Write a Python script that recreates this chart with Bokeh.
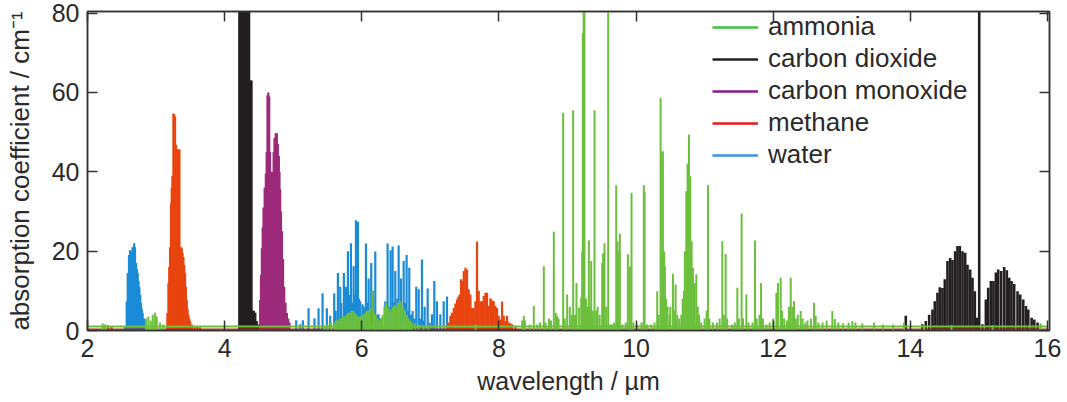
from bokeh.plotting import figure
from bokeh.models import Range1d, LinearAxis, Legend, LegendItem, FixedTicker
from bokeh.embed import file_html
from bokeh.resources import INLINE

# ---------------- data (wavelength in µm, absorption coefficient in cm^-1) -------------
species = ["ammonia", "carbon dioxide", "carbon monoxide", "methane", "water"]
x_ticks = [2, 4, 6, 8, 10, 12, 14, 16]
y_ticks = [0, 20, 40, 60, 80]
wl_range = [2, 16]

water_wl = [2.547, 2.572, 2.587, 2.605, 2.620, 2.633, 2.645, 2.657, 2.669, 2.681, 2.693,
            2.708, 2.720, 2.732, 2.744, 2.756, 2.769, 2.781, 2.793, 2.805, 2.822, 2.839,
            5.044, 5.102, 5.141, 5.224, 5.311, 5.370, 5.428, 5.491, 5.540, 5.598, 5.620,
            5.652, 5.686, 5.700, 5.739, 5.760, 5.769, 5.798, 5.820, 5.842, 5.860, 5.881,
            5.900, 5.915, 5.944, 5.960, 5.978, 6.012, 6.030, 6.061, 6.080, 6.100, 6.120,
            6.138, 6.163, 6.197, 6.220, 6.245, 6.270, 6.294, 6.343, 6.377, 6.400, 6.421,
            6.450, 6.470, 6.489, 6.520, 6.538, 6.572, 6.590, 6.611, 6.630, 6.654, 6.680,
            6.693, 6.720, 6.742, 6.770, 6.795, 6.830, 6.850, 6.878, 6.900, 6.917, 6.961,
            6.990, 7.024, 7.058, 7.097, 7.146, 7.195, 7.243]
water_abs = [1.0, 7.3, 14.5, 19.0, 20.2, 19.5, 20.0, 21.0, 21.0, 22.0, 21.0,
             17.0, 15.5, 14.5, 12.5, 11.0, 9.0, 6.9, 5.5, 4.4, 3.0, 1.5,
             2.6, 1.6, 2.6, 5.6, 3.1, 5.6, 9.4, 5.6, 3.7, 9.4, 5.0,
             14.5, 11.0, 7.0, 14.5, 8.0, 11.0, 20.0, 9.0, 22.0, 7.0, 16.2,
             9.0, 27.8, 27.4, 8.0, 7.4, 6.6, 6.0, 21.9, 7.0, 13.1, 5.0,
             17.0, 10.0, 19.9, 4.0, 4.1, 3.0, 3.2, 7.4, 21.9, 6.0, 20.2,
             21.2, 7.0, 15.0, 8.0, 21.4, 13.1, 6.0, 17.5, 7.0, 19.0, 5.0,
             15.8, 4.0, 4.9, 3.0, 11.0, 10.4, 3.0, 17.9, 2.5, 6.0, 10.6,
             2.0, 4.1, 12.5, 7.4, 4.1, 7.4, 8.6]

methane_wl = [2.25, 2.30, 2.35,
              3.165, 3.180, 3.192, 3.204, 3.219, 3.228, 3.238, 3.253, 3.265, 3.277, 3.292,
              3.307, 3.316, 3.326, 3.341, 3.350, 3.362, 3.375, 3.387, 3.399, 3.411, 3.423,
              3.435, 3.448, 3.460, 3.472, 3.484, 3.496, 3.521, 3.56, 3.60, 3.64,
              7.245, 7.270, 7.292, 7.316, 7.341, 7.365, 7.389, 7.408, 7.428, 7.448, 7.467,
              7.487, 7.511, 7.535, 7.560, 7.584, 7.608, 7.633, 7.657, 7.681, 7.706, 7.730,
              7.754, 7.779, 7.803, 7.827, 7.852, 7.876, 7.900, 7.925, 7.949, 7.973, 7.998,
              8.022, 8.046, 8.071, 8.095, 8.119, 8.144, 8.168, 8.192, 8.241]
methane_abs = [1.2, 1.3, 1.0,
               4.4, 11.9, 16.0, 21.0, 32.0, 36.0, 39.0, 54.7, 54.5, 53.9, 46.8,
               22.3, 45.6, 45.6, 45.6, 21.0, 21.0, 20.7, 19.5, 18.5, 16.5, 14.4,
               11.0, 7.7, 5.5, 4.0, 3.0, 2.3, 1.5, 1.0, 1.0, 0.8,
               1.5, 2.0, 3.7, 4.5, 5.7, 6.8, 7.8, 8.5, 9.1, 12.9, 12.5,
               15.0, 15.8, 15.4, 10.4, 9.1, 5.7, 5.7, 7.4, 22.4, 10.0, 7.4,
               7.4, 8.7, 9.5, 9.5, 6.2, 8.1, 7.6, 7.4, 6.2, 5.7, 3.7,
               2.8, 7.3, 3.7, 2.4, 3.7, 2.0, 1.8, 1.6, 1.2]

co_wl = [4.508, 4.518, 4.530, 4.543, 4.555, 4.567, 4.584, 4.601, 4.613, 4.625, 4.637,
         4.650, 4.662, 4.674, 4.688, 4.703, 4.715, 4.727, 4.745, 4.762, 4.776, 4.791,
         4.800, 4.810, 4.822, 4.835, 4.852, 4.869, 4.888, 4.908, 4.927, 4.946]
co_abs = [1.5, 7.7, 14.0, 20.7, 26.0, 31.0, 36.0, 39.6, 45.0, 59.3, 60.0,
          59.0, 45.0, 39.5, 40.0, 39.6, 45.0, 48.5, 49.7, 49.7, 47.0, 44.0,
          40.0, 35.6, 30.0, 25.0, 18.0, 11.0, 7.0, 4.4, 3.0, 2.0]

co2_wl = [4.216, 4.235, 4.255, 4.275, 4.295, 4.315, 4.335, 4.355, 4.375, 4.390,
          4.405, 4.425, 4.445, 4.465, 4.485,
          13.934,
          14.177, 14.226, 14.275, 14.323, 14.357, 14.396, 14.430, 14.469, 14.503, 14.542,
          14.581, 14.615, 14.654, 14.688, 14.722, 14.761, 14.800, 14.834, 14.873, 14.907,
          14.941, 14.970, 15.005,
          15.053, 15.102, 15.136, 15.175, 15.212, 15.248, 15.282, 15.325, 15.369, 15.408,
          15.442, 15.476, 15.515, 15.564, 15.603, 15.647, 15.686, 15.720, 15.769, 15.808,
          15.856]
co2_abs = [160, 160, 160, 160, 160, 160, 160, 160, 63.0, 63.0,
           5.0, 5.0, 4.5, 2.4, 1.5,
           3.7,
           1.6, 2.4, 4.0, 5.3, 7.4, 9.5, 10.9, 10.7, 12.9, 17.5,
           18.3, 17.8, 20.0, 21.3, 21.3, 20.0, 19.6, 16.6, 15.4, 13.3,
           9.9, 3.2, 200,
           1.6, 7.8, 10.8, 12.5, 12.5, 14.6, 15.4, 15.0, 16.0, 15.2,
           13.3, 12.5, 11.7, 9.9, 9.1, 7.8, 6.2, 5.3, 3.2, 2.8,
           2.0]

ammonia_wl = [2.22, 2.26, 2.854, 2.888, 2.922, 2.952, 2.985, 3.010, 3.058, 3.107,
              5.45, 5.50, 5.55, 5.60, 5.625, 5.65, 5.675, 5.70, 5.725, 5.75, 5.775, 5.80,
              5.825, 5.85, 5.875, 5.90, 5.925, 5.95, 5.975, 6.00, 6.025, 6.05, 6.075, 6.10,
              6.125, 6.158, 6.18, 6.205, 6.23, 6.255, 6.28, 6.305, 6.33, 6.355, 6.38, 6.405,
              6.43, 6.455, 6.48, 6.505, 6.53, 6.555, 6.58, 6.605, 6.63, 6.655, 6.68, 6.705,
              6.73, 6.78, 6.83, 6.90, 6.975, 7.66,
              8.34, 8.363, 8.38, 8.45, 8.509, 8.56, 8.60, 8.655, 8.68, 8.73, 8.76, 8.801,
              8.83, 8.85, 8.87, 8.937, 8.96, 8.995, 9.034, 9.06, 9.083, 9.11, 9.131, 9.166,
              9.200, 9.215, 9.224, 9.236, 9.248, 9.27, 9.29, 9.312, 9.33, 9.346, 9.37,
              9.394, 9.42, 9.44, 9.47, 9.506, 9.52, 9.540, 9.565, 9.594, 9.62, 9.65, 9.68,
              9.711, 9.73, 9.75, 9.764, 9.80, 9.85, 9.881, 9.910, 9.934, 9.96, 10.02,
              10.08, 10.114, 10.125, 10.16, 10.22, 10.27, 10.309, 10.33, 10.358, 10.38,
              10.392, 10.41, 10.421, 10.44, 10.46, 10.49, 10.50, 10.538, 10.56, 10.577,
              10.60, 10.63, 10.66, 10.68, 10.699, 10.712, 10.733, 10.752, 10.772, 10.791,
              10.811, 10.83, 10.855, 10.879, 10.90, 10.92, 10.95, 11.00, 11.03, 11.049,
              11.07, 11.12, 11.18, 11.22, 11.258, 11.28, 11.307, 11.33, 11.40, 11.44,
              11.477, 11.50, 11.540, 11.56, 11.609, 11.64, 11.70, 11.735, 11.76, 11.80,
              11.823, 11.85, 11.90, 11.95, 12.00, 12.047, 12.07, 12.110, 12.13, 12.16,
              12.20, 12.23, 12.256, 12.28, 12.304, 12.33, 12.36, 12.401, 12.43, 12.47,
              12.50, 12.55, 12.596, 12.62, 12.66, 12.72, 12.78, 12.863, 12.90, 12.95,
              13.02, 13.10, 13.155, 13.20, 13.30, 13.471, 13.60, 13.75, 13.909, 14.2,
              14.6, 15.2, 15.9]
ammonia_abs = [1.8, 1.6, 3.0, 3.5, 2.5, 4.0, 4.5, 3.5, 2.0, 1.5,
               1.2, 1.5, 2.0, 2.0, 2.5, 2.5, 3.0, 3.0, 3.5, 3.5, 4.0, 4.5,
               4.5, 5.0, 5.0, 4.5, 4.0, 3.5, 3.5, 4.0, 4.0, 4.5, 5.0, 5.0,
               5.5, 10.0, 4.5, 4.0, 3.0, 2.5, 3.0, 4.0, 6.0, 7.0, 6.0, 5.5,
               5.0, 6.0, 6.5, 6.0, 7.0, 7.5, 7.0, 6.0, 5.0, 4.0, 3.0, 2.5,
               2.0, 1.8, 1.5, 1.3, 1.2, 1.5,
               2.5, 3.7, 2.5, 1.5, 6.2, 1.5, 2.0, 16.2, 2.0, 3.0, 2.5, 24.9,
               4.5, 3.7, 3.0, 54.9, 3.0, 9.1, 6.0, 4.0, 55.5, 4.0, 12.0, 5.8,
               8.3, 20.0, 75.0, 95.0, 95.0, 8.0, 6.0, 22.7, 6.0, 17.5, 5.0,
               55.5, 5.0, 6.0, 4.0, 17.0, 19.5, 22.0, 6.0, 95.0, 1.5, 1.5, 2.0,
               36.6, 22.5, 20.0, 24.4, 1.5, 2.0, 19.2, 16.1, 34.7, 2.0, 1.5,
               2.0, 36.6, 35.0, 1.5, 1.5, 2.0, 9.9, 4.0, 58.6, 45.0,
               45.2, 20.0, 16.2, 8.0, 6.0, 4.0, 6.0, 14.3, 5.0, 11.6,
               4.0, 3.0, 4.0, 8.0, 10.0, 20.0, 35.1, 42.0, 49.4, 38.9,
               22.5, 15.8, 12.0, 14.2, 6.0, 4.0, 2.0, 3.0, 5.0, 36.6,
               3.0, 2.0, 2.0, 3.0, 22.5, 4.0, 19.3, 3.0, 1.5, 2.0,
               10.8, 3.0, 29.5, 3.0, 9.1, 2.0, 2.0, 22.7, 3.0, 4.0,
               12.0, 3.0, 1.5, 2.0, 3.0, 9.5, 12.0, 13.3, 5.0, 3.0,
               2.5, 6.0, 13.3, 6.0, 7.4, 3.0, 4.0, 4.9, 3.0, 2.0,
               2.5, 3.0, 7.0, 3.7, 2.0, 2.0, 2.5, 4.9, 2.9, 2.0,
               1.8, 2.0, 2.4, 2.0, 1.8, 2.0, 1.5, 1.5, 2.0, 1.5,
               1.3, 1.3, 1.8]

# continuum (floor) level of each spectrum
ammonia_floor = 1.0
methane_floor = 0.25

# ---------------- styling ----------------
FONT = "Liberation Sans"
TXT = "#2a2a2a"
spec_colors = {"ammonia": "#6cbf3c", "carbon dioxide": "#231f20",
               "carbon monoxide": "#9c2a7a", "methane": "#e9440f", "water": "#1b8bd6"}
legend_colors = {"ammonia": "#3ec43e", "carbon dioxide": "#222222",
                 "carbon monoxide": "#8e1a8e", "methane": "#e8161b", "water": "#3d92e3"}

p = figure(width=1067, height=402, output_backend="svg", toolbar_location=None,
           x_range=Range1d(2, 16.03), y_range=Range1d(0, 80.4),
           min_border_left=87, min_border_right=18, min_border_top=11, min_border_bottom=72)
p.grid.visible = False
p.background_fill_color = "white"
p.outline_line_color = "#333333"
p.outline_line_width = 1.5

LW = 2.2
p.segment(x0=water_wl, y0=0, x1=water_wl, y1=water_abs, line_color=spec_colors["water"], line_width=LW)
p.segment(x0=methane_wl, y0=0, x1=methane_wl, y1=methane_abs, line_color=spec_colors["methane"], line_width=LW)
p.segment(x0=co_wl, y0=0, x1=co_wl, y1=co_abs, line_color=spec_colors["carbon monoxide"], line_width=LW)
p.segment(x0=co2_wl, y0=0, x1=co2_wl, y1=co2_abs, line_color=spec_colors["carbon dioxide"], line_width=2.6)
p.line(x=wl_range, y=[methane_floor, methane_floor], line_color=spec_colors["methane"], line_width=2, line_alpha=0.8)
p.line(x=wl_range, y=[methane_floor, methane_floor], line_color=spec_colors["carbon dioxide"], line_width=2, line_alpha=0.35)
p.line(x=wl_range, y=[ammonia_floor, ammonia_floor], line_color=spec_colors["ammonia"], line_width=2)
p.segment(x0=ammonia_wl, y0=0, x1=ammonia_wl, y1=ammonia_abs, line_color=spec_colors["ammonia"], line_width=2.0)

# legend proxies (undrawn points; only their legend glyph shows)
nan = float("nan")
items = []
for s in species:
    r = p.line(x=[wl_range[0], wl_range[0]], y=[nan, nan], line_color=legend_colors[s], line_width=2.5)
    items.append(LegendItem(label=s, renderers=[r]))
legend = Legend(items=items, location=(625, 160), orientation="vertical",
                label_text_font=FONT, label_text_font_size="26px", label_text_color=TXT,
                glyph_width=46, glyph_height=30, label_height=30, spacing=1,
                label_standoff=10, padding=0, margin=0,
                background_fill_alpha=0, border_line_alpha=0)
p.add_layout(legend, "center")

# axes
def style(ax, labels=True):
    ax.axis_line_color = "#333333"
    ax.axis_line_width = 1.5
    ax.major_tick_line_color = "#333333"
    ax.major_tick_line_width = 1.5
    ax.major_tick_in = 10
    ax.major_tick_out = 0
    ax.minor_tick_line_color = None
    if labels:
        ax.major_label_text_font = FONT
        ax.major_label_text_font_size = "25px"
        ax.major_label_text_color = TXT
        ax.axis_label_text_font = FONT
        ax.axis_label_text_font_style = "normal"
        ax.axis_label_text_color = TXT
    else:
        ax.major_label_text_font_size = "1px"
        ax.major_label_text_color = None
        ax.major_label_standoff = 0

xax = p.xaxis[0]
xax.ticker = FixedTicker(ticks=x_ticks)
xax.axis_label = "wavelength / µm"
style(xax)
xax.axis_label_text_font_size = "25px"
xax.major_label_standoff = 8
xax.axis_label_standoff = 7

yax = p.yaxis[0]
yax.ticker = FixedTicker(ticks=y_ticks)
yax.axis_label = "absorption coefficient / cm\u207b\u00b9"
style(yax)
yax.axis_label_text_font_size = "26px"
yax.major_label_standoff = 8
yax.axis_label_standoff = 14

top = LinearAxis(ticker=FixedTicker(ticks=x_ticks))
style(top, labels=False)
p.add_layout(top, "above")
right = LinearAxis(ticker=FixedTicker(ticks=y_ticks))
style(right, labels=False)
p.add_layout(right, "right")

open("out.html", "w").write(file_html(p, INLINE))
